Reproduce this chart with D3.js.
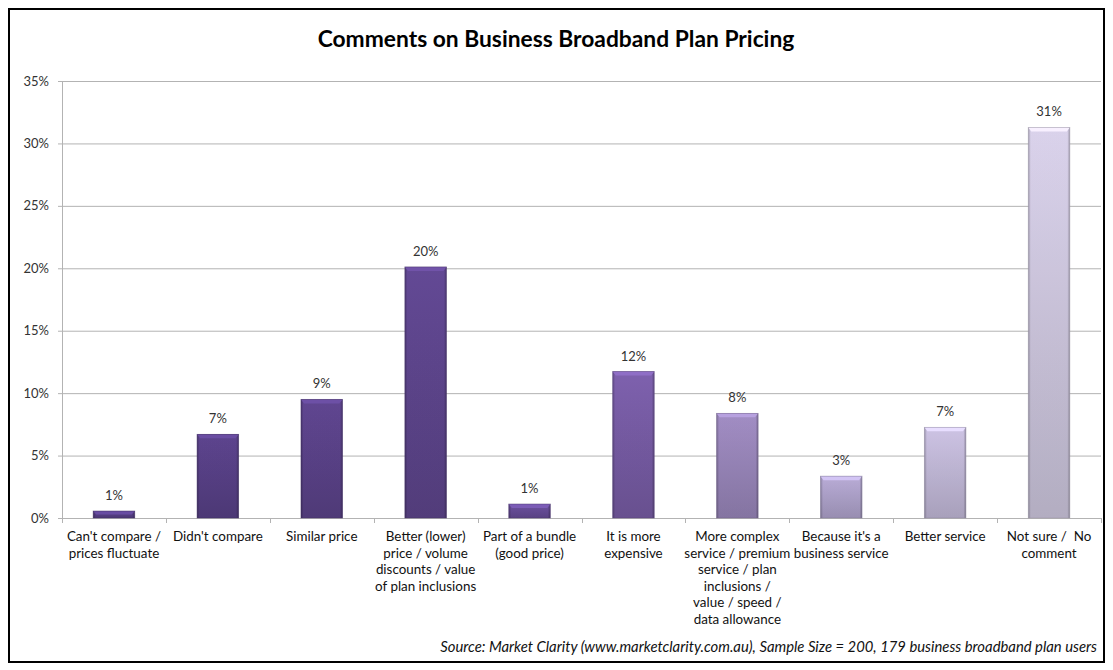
<!DOCTYPE html>
<html>
<head>
<meta charset="utf-8">
<script src="https://cdn.jsdelivr.net/npm/d3@7"></script>
<style>
  html, body { margin: 0; padding: 0; background: #ffffff; }
  svg { display: block; }
  text { font-family: Lato, "Open Sans", sans-serif; white-space: pre; }
</style>
</head>
<body>
<svg id="chart" width="1113" height="670"></svg>
<script>
// Survey responses: comments on business broadband plan pricing (share of 179 users)
const categories = [
  ["Can't compare /", "prices fluctuate"],
  ["Didn't compare"],
  ["Similar price"],
  ["Better (lower)", "price / volume", "discounts / value", "of plan inclusions"],
  ["Part of a bundle", "(good price)"],
  ["It is more", "expensive"],
  ["More complex", "service / premium", "service / plan", "inclusions /", "value / speed /", "data allowance"],
  ["Because it's a", "business service"],
  ["Better service"],
  ["Not sure /  No", "comment"]
];
const values = [0.56, 6.70, 9.50, 20.11, 1.12, 11.73, 8.38, 3.35, 7.26, 31.28];
const valueLabels = ["1%", "7%", "9%", "20%", "1%", "12%", "8%", "3%", "7%", "31%"];
const barColors = ["#59418a", "#5a428a", "#5d448d", "#604790", "#694e9b", "#7a5ea9",
                   "#9c89be", "#b3a7d0", "#c6bddd", "#d3cce4"];
const yTicks = [0, 5, 10, 15, 20, 25, 30, 35];
const titleText = "Comments on Business Broadband Plan Pricing";
const sourceText = "Source: Market Clarity (www.marketclarity.com.au), Sample Size = 200, 179 business broadband plan users";

const svg = d3.select("#chart");

// shrink or grow a text element's font until it spans the wanted width
function fitWidth(sel, width) {
  const node = sel.node();
  const fs = parseFloat(sel.attr("font-size"));
  const w = node.getComputedTextLength();
  if (w > 0) sel.attr("font-size", (fs * width / w).toFixed(2));
}

// outer frame
svg.append("rect")
  .attr("x", 9).attr("y", 9).attr("width", 1095).attr("height", 653)
  .attr("fill", "#ffffff").attr("stroke", "#000000").attr("stroke-width", 2);

const title = svg.append("text")
  .attr("x", 556).attr("y", 47)
  .attr("text-anchor", "middle")
  .attr("font-size", 21).attr("font-weight", "bold").attr("fill", "#000")
  .text(titleText);
fitWidth(title, 477);

const plot = { left: 62, right: 1101, top: 81, bottom: 518 };

const x = d3.scaleBand()
  .domain(d3.range(categories.length))
  .range([plot.left, plot.right])
  .paddingInner(0.6).paddingOuter(0.3);

const xOuter = d3.scaleBand()
  .domain(d3.range(categories.length))
  .range([plot.left, plot.right]);

const y = d3.scaleLinear().domain([0, 35]).range([plot.bottom, plot.top]);

// gridlines
svg.append("g")
  .selectAll("line")
  .data(yTicks)
  .join("line")
  .attr("x1", plot.left - 4).attr("x2", plot.right)
  .attr("y1", d => y(d) + 0.5).attr("y2", d => y(d) + 0.5)
  .attr("stroke", "#b3b3b3").attr("stroke-width", 1);

// y axis line
svg.append("line")
  .attr("x1", plot.left + 0.5).attr("x2", plot.left + 0.5)
  .attr("y1", plot.top).attr("y2", plot.bottom + 5)
  .attr("stroke", "#b3b3b3");

// y tick labels
svg.append("g")
  .selectAll("text")
  .data(yTicks)
  .join("text")
  .attr("x", plot.left - 13)
  .attr("y", d => y(d) + 4.5)
  .attr("text-anchor", "end")
  .attr("font-size", 13).attr("fill", "#333")
  .text(d => d + "%");

// x category ticks
svg.append("g")
  .selectAll("line")
  .data(d3.range(1, categories.length + 1))
  .join("line")
  .attr("x1", i => Math.round(plot.left + i * xOuter.step()) + 0.5)
  .attr("x2", i => Math.round(plot.left + i * xOuter.step()) + 0.5)
  .attr("y1", plot.bottom).attr("y2", plot.bottom + 5)
  .attr("stroke", "#b3b3b3");

// gradients for bars
const defs = svg.append("defs");
barColors.forEach((c, i) => {
  const base = d3.color(c);
  const g = defs.append("linearGradient")
    .attr("id", "bar-grad-" + i)
    .attr("x1", 0).attr("y1", 0).attr("x2", 0).attr("y2", 1);
  g.append("stop").attr("offset", "0%").attr("stop-color", base.brighter(0.2));
  g.append("stop").attr("offset", "100%").attr("stop-color", base.darker(0.35));
  const h = defs.append("linearGradient")
    .attr("id", "bar-side-" + i)
    .attr("x1", 0).attr("y1", 0).attr("x2", 1).attr("y2", 0);
  h.append("stop").attr("offset", "0%").attr("stop-color", "#000").attr("stop-opacity", 0.28);
  h.append("stop").attr("offset", "6%").attr("stop-color", "#000").attr("stop-opacity", 0.04);
  h.append("stop").attr("offset", "94%").attr("stop-color", "#000").attr("stop-opacity", 0.04);
  h.append("stop").attr("offset", "100%").attr("stop-color", "#000").attr("stop-opacity", 0.3);
});

const bars = svg.append("g")
  .selectAll("g")
  .data(values)
  .join("g");

bars.append("rect")
  .attr("x", (d, i) => x(i))
  .attr("y", d => y(d))
  .attr("width", x.bandwidth())
  .attr("height", d => plot.bottom - y(d))
  .attr("fill", (d, i) => `url(#bar-grad-${i})`);

bars.append("rect")
  .attr("x", (d, i) => x(i))
  .attr("y", d => y(d))
  .attr("width", x.bandwidth())
  .attr("height", d => plot.bottom - y(d))
  .attr("fill", (d, i) => `url(#bar-side-${i})`);

// bevelled top edge
bars.append("polygon")
  .attr("points", (d, i) => {
    const x0 = x(i), x1 = x(i) + x.bandwidth(), t = y(d);
    const b = Math.min(4, (plot.bottom - t) / 2);
    return [[x0, t], [x1, t], [x1 - 3, t + b], [x0 + 3, t + b]].join(" ");
  })
  .attr("fill", (d, i) => d3.color(barColors[i]).brighter(0.45));

bars.append("rect")
  .attr("x", (d, i) => x(i))
  .attr("y", d => y(d))
  .attr("width", x.bandwidth())
  .attr("height", d => plot.bottom - y(d))
  .attr("fill", "none")
  .attr("stroke", (d, i) => d3.color(barColors[i]).darker(0.9))
  .attr("stroke-opacity", 0.6)
  .attr("stroke-width", 0.8);

// value labels
svg.append("g")
  .selectAll("text")
  .data(values)
  .join("text")
  .attr("x", (d, i) => x(i) + x.bandwidth() / 2)
  .attr("y", d => y(d) - 11)
  .attr("text-anchor", "middle")
  .attr("font-size", 13).attr("fill", "#333")
  .text((d, i) => valueLabels[i]);

// category labels
const catLabels = svg.append("g")
  .selectAll("text")
  .data(categories)
  .join("text")
  .attr("text-anchor", "middle")
  .attr("font-size", 13.4).attr("fill", "#111");

catLabels.selectAll("tspan")
  .data((d, i) => d.map(line => ({ line, i })))
  .join("tspan")
  .attr("x", d => xOuter(d.i) + xOuter.bandwidth() / 2)
  .attr("y", (d, j) => plot.bottom + 23 + j * 16.6)
  .text(d => d.line);

const source = svg.append("text")
  .attr("x", 1097).attr("y", 652)
  .attr("text-anchor", "end")
  .attr("font-size", 14).attr("font-style", "italic").attr("fill", "#111")
  .text(sourceText);
fitWidth(source, 657);
</script>
</body>
</html>
